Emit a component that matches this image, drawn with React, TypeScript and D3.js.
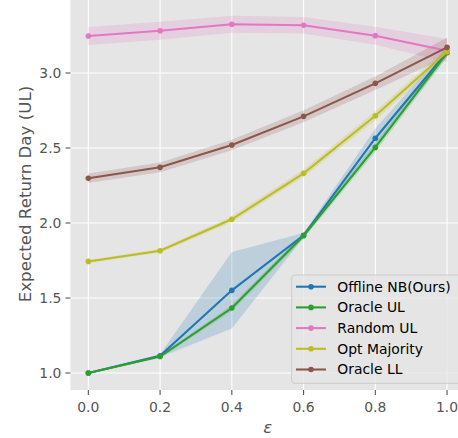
import React from "react";
import * as d3 from "d3";

const epsilons = [0.0, 0.2, 0.4, 0.6, 0.8, 1.0];
const seriesNames = ["Offline NB(Ours)", "Oracle UL", "Random UL", "Opt Majority", "Oracle LL"];
const seriesColors = ["#1f77b4", "#2ca02c", "#e377c2", "#bcbd22", "#8c564b"];

const offlineNB = [1.0, 1.115, 1.551, 1.918, 2.565, 3.14];
const offlineNBErr = [0.005, 0.01, 0.255, 0.015, 0.065, 0.03];
const oracleUL = [1.0, 1.11, 1.433, 1.915, 2.504, 3.135];
const oracleULErr = [0.005, 0.01, 0.02, 0.02, 0.03, 0.03];
const randomUL = [3.247, 3.282, 3.325, 3.318, 3.249, 3.149];
const randomULErr = [0.06, 0.06, 0.057, 0.055, 0.06, 0.078];
const optMajority = [1.744, 1.815, 2.025, 2.331, 2.715, 3.142];
const optMajorityErr = [0.01, 0.012, 0.02, 0.025, 0.03, 0.03];
const oracleLL = [2.298, 2.371, 2.52, 2.711, 2.931, 3.171];
const oracleLLErr = [0.032, 0.032, 0.035, 0.04, 0.045, 0.065];

const xTicks = [0.0, 0.2, 0.4, 0.6, 0.8, 1.0];
const yTicks = [1.0, 1.5, 2.0, 2.5, 3.0];

const W = 458;
const H = 438;
const plotLeft = 70.4;
const plotRight = 465;
const plotTop = 0;
const plotBottom = 390;

export default function App() {
  const x = d3.scaleLinear().domain([-0.05, 1.05]).range([plotLeft, plotRight]);
  const y = d3.scaleLinear().domain([0.8867, 3.4867]).range([plotBottom, plotTop]);
  const values = [offlineNB, oracleUL, randomUL, optMajority, oracleLL];
  const errs = [offlineNBErr, oracleULErr, randomULErr, optMajorityErr, oracleLLErr];
  const line = d3.line<number>().x((_, i) => x(epsilons[i])).y((v) => y(v));
  const area = d3
    .area<[number, number]>()
    .x((_, i) => x(epsilons[i]))
    .y0((d) => y(d[0] - d[1]))
    .y1((d) => y(d[0] + d[1]));
  const font = "'DejaVu Sans', sans-serif";
  const tickColor = "#555555";
  const legX = 291.7;
  const legY = 275;
  const legRow = 20.7;
  return (
    <svg
      width={W}
      height={H}
      style={{ position: "fixed", left: 0, top: 0, background: "#fff" }}
      fontFamily={font}
    >
      <defs>
        <clipPath id="plotclip">
          <rect x={plotLeft} y={plotTop} width={plotRight - plotLeft} height={plotBottom - plotTop} />
        </clipPath>
      </defs>
      <rect x={plotLeft} y={plotTop} width={plotRight - plotLeft} height={plotBottom - plotTop} fill="#E5E5E5" />
      {xTicks.map((t) => (
        <line key={"gx" + t} x1={x(t)} x2={x(t)} y1={plotTop} y2={plotBottom} stroke="#fff" strokeWidth={1.1} />
      ))}
      {yTicks.map((t) => (
        <line key={"gy" + t} x1={plotLeft} x2={plotRight} y1={y(t)} y2={y(t)} stroke="#fff" strokeWidth={1.1} />
      ))}
      <g clipPath="url(#plotclip)">
        {values.map((vals, si) => (
          <path
            key={"a" + si}
            d={area(vals.map((v, i) => [v, errs[si][i]] as [number, number])) || ""}
            fill={seriesColors[si]}
            fillOpacity={0.2}
          />
        ))}
        {values.map((vals, si) => (
          <g key={"l" + si}>
            <path d={line(vals) || ""} fill="none" stroke={seriesColors[si]} strokeWidth={2.08} />
            {vals.map((v, i) => (
              <circle key={i} cx={x(epsilons[i])} cy={y(v)} r={2.8} fill={seriesColors[si]} />
            ))}
          </g>
        ))}
      </g>
      {xTicks.map((t) => (
        <g key={"tx" + t}>
          <line x1={x(t)} x2={x(t)} y1={plotBottom} y2={plotBottom + 4.9} stroke={tickColor} strokeWidth={1.1} />
          <text x={x(t)} y={plotBottom + 22} textAnchor="middle" fontSize={13.9} fill={tickColor}>
            {d3.format(".1f")(t)}
          </text>
        </g>
      ))}
      {yTicks.map((t) => (
        <g key={"ty" + t}>
          <line x1={plotLeft - 4.9} x2={plotLeft} y1={y(t)} y2={y(t)} stroke={tickColor} strokeWidth={1.1} />
          <text x={plotLeft - 9} y={y(t)} dy="0.35em" textAnchor="end" fontSize={13.9} fill={tickColor}>
            {d3.format(".1f")(t)}
          </text>
        </g>
      ))}
      <text
        transform={`translate(${30.5},${y(2.0) - 29}) rotate(-90)`}
        textAnchor="middle"
        fontSize={16.7}
        fill={tickColor}
      >
        Expected Return Day (UL)
      </text>
      <text x={(plotLeft + plotRight) / 2} y={433} textAnchor="middle" fontSize={16.7} fontStyle="italic" fill={tickColor}>
        ε
      </text>
      <g>
        <rect
          x={legX}
          y={legY}
          width={180}
          height={108.3}
          rx={3}
          fill="#E5E5E5"
          fillOpacity={0.8}
          stroke="#CCCCCC"
          strokeWidth={1}
        />
        {seriesNames.map((name, i) => {
          const cy = legY + 11.7 + i * legRow;
          return (
            <g key={name}>
              <line x1={296} x2={326} y1={cy} y2={cy} stroke={seriesColors[i]} strokeWidth={2.08} />
              <circle cx={311} cy={cy} r={2.8} fill={seriesColors[i]} />
              <text x={337.3} y={cy} dy="0.35em" fontSize={13.9} fill="#000">
                {name}
              </text>
            </g>
          );
        })}
      </g>
    </svg>
  );
}
